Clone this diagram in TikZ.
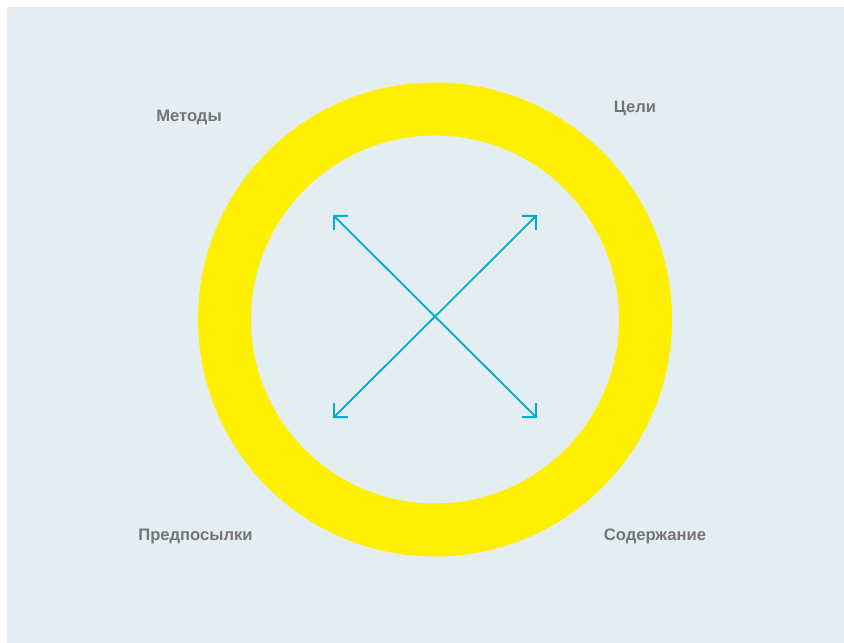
\documentclass[tikz,border=0pt]{standalone}
\usepackage{fontspec}
\setmainfont{Liberation Sans}
\usetikzlibrary{arrows.meta}
\definecolor{bgc}{HTML}{E3EDF2}
\definecolor{ringc}{HTML}{FFF000}
\definecolor{arrc}{HTML}{00AECB}
\definecolor{txtc}{HTML}{757575}
\tikzset{
  lbl/.style={font=\bfseries\fontsize{16.6}{19}\selectfont, text=txtc, inner sep=0pt, anchor=base},
  dbl/.style={draw=arrc, line width=1.8pt, {Straight Barb[angle=90:14pt]}-{Straight Barb[angle=90:14pt]}}
}
\begin{document}
\begin{tikzpicture}[x=1pt,y=-1pt]
\useasboundingbox (0,0) rectangle (844,643);
\fill[white] (0,0) rectangle (844,643);
\fill[bgc] (7,7) rectangle (844,643);
\draw[ringc, line width=53pt] (435,319.5) circle[radius=210.5];
\coordinate (tl) at (333,215);
\coordinate (tr) at (537,215);
\coordinate (bl) at (333,418);
\coordinate (br) at (537,418);
\draw[dbl] (tl) -- (br);
\draw[dbl] (bl) -- (tr);
\node[lbl] (metody) at (189,121) {Методы};
\node[lbl] (celi) at (635,112) {Цели};
\node[lbl] (pred) at (195.5,540) {Предпосылки};
\node[lbl] (sod) at (655,540) {Содержание};
\end{tikzpicture}
\end{document}
